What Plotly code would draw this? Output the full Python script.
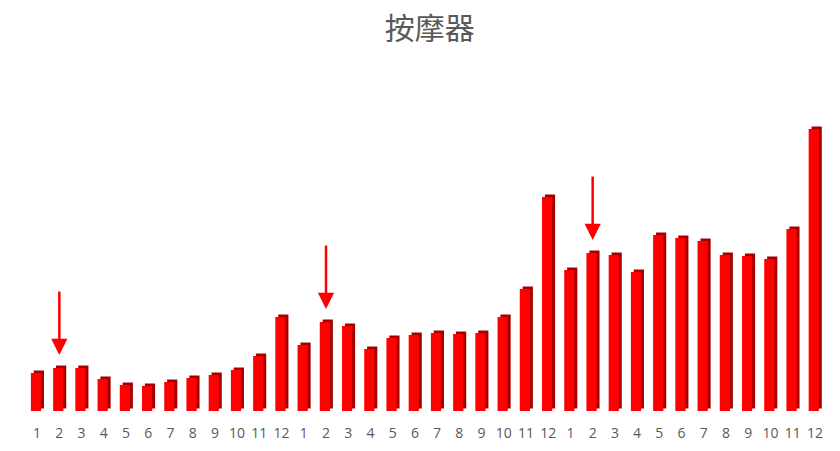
import plotly.graph_objects as go

# помесячные значения за три года (единицы условные)
god1 = [38, 43, 43, 32, 26, 25, 29, 33, 36, 41, 55, 94]
god2 = [66, 89, 85, 62, 73, 76, 78, 77, 78, 94, 122, 214]
god3 = [141, 158, 156, 139, 176, 173, 170, 156, 155, 152, 182, 282]
mesyacy = [str(m) for m in range(1, 13)]
strelki = [1, 13, 25]  # индексы столбцов со стрелками

vals = god1 + god2 + god3
x = list(range(len(vals)))
labels = mesyacy * 3

fig = go.Figure()
# тёмная боковая грань - имитация объёма
fig.add_trace(go.Bar(x=x, y=vals, base=2.5, width=0.46, offset=-0.15,
                     marker=dict(color='#a50000', line_width=0), hoverinfo='skip'))
fig.add_trace(go.Bar(x=x, y=vals, width=0.46, offset=-0.28,
                     marker=dict(color='#ff0000', line_width=0)))

for i in strelki:
    fig.add_annotation(x=i, y=vals[i], ax=0, ay=-78, standoff=13, showarrow=True,
                       arrowhead=2, arrowsize=1.3, arrowwidth=2.5, arrowcolor='#ff0000', text='')

# страница сдвигает график на 8px (отступ body), поэтому поля подогнаны
fig.update_layout(
    title=dict(text='按摩器', x=0.502, xanchor='center', y=0.955, yanchor='middle',
               font=dict(family='Noto Sans CJK SC', size=30, color='#595959')),
    width=840, height=451, showlegend=False, barmode='overlay',
    plot_bgcolor='white', paper_bgcolor='white',
    margin=dict(l=18, r=22, t=72, b=48),
)
fig.update_xaxes(tickmode='array', tickvals=x, ticktext=labels, range=[-0.5, 35.5],
                 showgrid=False, zeroline=False, showline=False, ticks='',
                 ticklabelstandoff=12,
                 tickfont=dict(family='Open Sans', size=14, color='#595959'))
fig.update_yaxes(range=[0, 331], visible=False)

fig.write_html("out.html")
